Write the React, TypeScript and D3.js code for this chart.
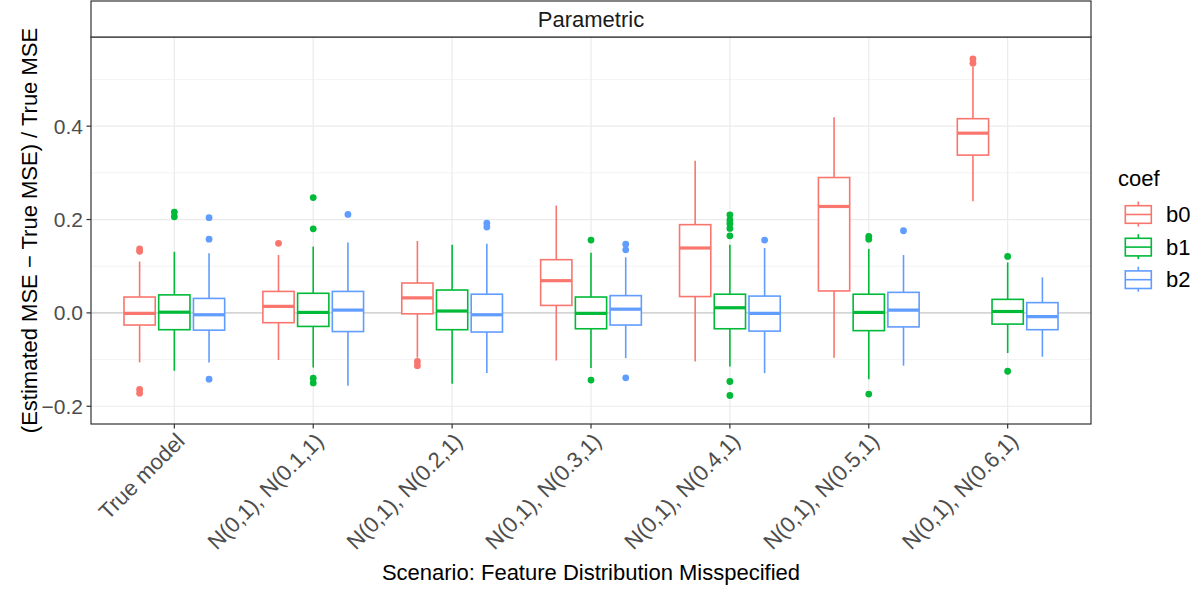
import React from "react";
import * as d3 from "d3";

const categories = [
  "True model",
  "N(0,1), N(0.1,1)",
  "N(0,1), N(0.2,1)",
  "N(0,1), N(0.3,1)",
  "N(0,1), N(0.4,1)",
  "N(0,1), N(0.5,1)",
  "N(0,1), N(0.6,1)",
];
const coefs = ["b0", "b1", "b2"];
const coefColors = ["#F8766D", "#00BA38", "#619CFF"];

// [lower whisker, q1, median, q3, upper whisker] per category
const b0Stats = [
  [-0.106, -0.026, -0.001, 0.034, 0.110],
  [-0.101, -0.021, 0.014, 0.046, 0.124],
  [-0.096, -0.002, 0.032, 0.064, 0.154],
  [-0.102, 0.016, 0.069, 0.114, 0.230],
  [-0.104, 0.035, 0.139, 0.189, 0.326],
  [-0.096, 0.047, 0.228, 0.290, 0.419],
  [0.239, 0.338, 0.385, 0.416, 0.528],
];
const b0Outliers = [
  [0.132, 0.137, -0.164, -0.172],
  [0.149],
  [-0.104, -0.113],
  [],
  [],
  [],
  [0.535, 0.544],
];
const b1Stats = [
  [-0.124, -0.036, 0.0015, 0.0386, 0.131],
  [-0.117, -0.029, 0.001, 0.042, 0.142],
  [-0.152, -0.036, 0.004, 0.049, 0.146],
  [-0.118, -0.034, -0.001, 0.034, 0.129],
  [-0.115, -0.034, 0.011, 0.040, 0.146],
  [-0.142, -0.038, 0.001, 0.040, 0.137],
  [-0.086, -0.024, 0.003, 0.029, 0.108],
];
const b1Outliers = [
  [0.206, 0.216],
  [0.247, 0.180, -0.140, -0.150],
  [],
  [0.156, -0.144],
  [0.210, 0.199, 0.191, 0.181, 0.165, -0.147, -0.177],
  [0.164, 0.158, -0.174],
  [0.121, -0.125],
];
const b2Stats = [
  [-0.106, -0.037, -0.004, 0.031, 0.128],
  [-0.156, -0.040, 0.006, 0.046, 0.151],
  [-0.129, -0.041, -0.004, 0.040, 0.148],
  [-0.097, -0.026, 0.008, 0.037, 0.119],
  [-0.129, -0.039, -0.001, 0.036, 0.139],
  [-0.113, -0.030, 0.006, 0.044, 0.124],
  [-0.094, -0.036, -0.008, 0.022, 0.076],
];
const b2Outliers = [
  [0.204, 0.158, -0.142],
  [0.211],
  [0.184, 0.192],
  [0.135, 0.147, -0.139],
  [0.156],
  [0.176],
  [],
];
const yTicks = [-0.2, 0.0, 0.2, 0.4];
const yMinor = [-0.1, 0.1, 0.3, 0.5];

const allStats = [b0Stats, b1Stats, b2Stats];
const allOutliers = [b0Outliers, b1Outliers, b2Outliers];

const W = 1203;
const H = 590;
const P = { left: 91, right: 1091, top: 37, bottom: 424 };
const FONT = "Liberation Sans, Arial, Helvetica, sans-serif";

export default function App() {
  const x = d3
    .scalePoint<string>()
    .domain(categories)
    .range([P.left, P.right])
    .padding(0.6);
  const step = x.step();
  const y = d3.scaleLinear().domain([-0.238, 0.591]).range([P.bottom, P.top]);
  const boxW = 0.225 * step;
  const fmt = d3.format(".1f");
  const fmtTick = (v: number) => fmt(v).replace("-", "\u2212");

  return (
    <svg
      width={W}
      height={H}
      style={{ position: "absolute", left: 0, top: 0, background: "#fff" }}
      fontFamily={FONT}
    >
      <rect x={0} y={0} width={W} height={H} fill="#fff" />
      {/* grid */}
      {yMinor.map((v) => (
        <line key={"mi" + v} x1={P.left} x2={P.right} y1={y(v)} y2={y(v)} stroke="#EBEBEB" strokeWidth={0.6} />
      ))}
      {yTicks.map((v) => (
        <line key={"ma" + v} x1={P.left} x2={P.right} y1={y(v)} y2={y(v)} stroke="#EBEBEB" strokeWidth={1.2} />
      ))}
      {categories.map((c) => (
        <line key={"vx" + c} x1={x(c)} x2={x(c)} y1={P.top} y2={P.bottom} stroke="#EBEBEB" strokeWidth={1.2} />
      ))}
      {/* zero line */}
      <line x1={P.left} x2={P.right} y1={y(0)} y2={y(0)} stroke="#CCCCCC" strokeWidth={1.4} />

      {/* boxes */}
      {coefs.map((coef, ci) =>
        categories.map((cat, gi) => {
          const [lo, q1, med, q3, hi] = allStats[ci][gi];
          const cx = (x(cat) as number) + (ci - 1) * 0.25 * step;
          const col = coefColors[ci];
          return (
            <g key={coef + cat}>
              <line x1={cx} x2={cx} y1={y(hi)} y2={y(q3)} stroke={col} strokeWidth={1.6} />
              <line x1={cx} x2={cx} y1={y(q1)} y2={y(lo)} stroke={col} strokeWidth={1.6} />
              <rect
                x={cx - boxW / 2}
                y={y(q3)}
                width={boxW}
                height={y(q1) - y(q3)}
                fill="#fff"
                stroke={col}
                strokeWidth={1.6}
              />
              <line x1={cx - boxW / 2} x2={cx + boxW / 2} y1={y(med)} y2={y(med)} stroke={col} strokeWidth={3.2} />
              {allOutliers[ci][gi].map((o, k) => (
                <circle key={k} cx={cx} cy={y(o)} r={3.4} fill={col} />
              ))}
            </g>
          );
        })
      )}

      {/* panel border */}
      <rect
        x={P.left}
        y={P.top}
        width={P.right - P.left}
        height={P.bottom - P.top}
        fill="none"
        stroke="#333333"
        strokeWidth={1.2}
      />
      {/* strip */}
      <rect x={P.left} y={1} width={P.right - P.left} height={P.top - 1} fill="#fff" stroke="#333333" strokeWidth={1.2} />
      <text x={(P.left + P.right) / 2} y={19} fontSize={22} fill="#1A1A1A" textAnchor="middle" dominantBaseline="central">
        Parametric
      </text>

      {/* y axis */}
      {yTicks.map((v) => (
        <g key={"yt" + v}>
          <line x1={P.left - 4.5} x2={P.left} y1={y(v)} y2={y(v)} stroke="#333333" strokeWidth={1.2} />
          <text x={P.left - 8} y={y(v)} fontSize={21} fill="#4D4D4D" textAnchor="end" dominantBaseline="central">
            {fmtTick(v)}
          </text>
        </g>
      ))}
      <text
        transform={`translate(37, ${(P.top + P.bottom) / 2}) rotate(-90)`}
        fontSize={22}
        fill="#000"
        textAnchor="middle"
      >
        (Estimated MSE − True MSE) / True MSE
      </text>

      {/* x axis */}
      {categories.map((c) => (
        <g key={"xt" + c}>
          <line x1={x(c)} x2={x(c)} y1={P.bottom} y2={P.bottom + 4.5} stroke="#333333" strokeWidth={1.2} />
          <text
            transform={`translate(${x(c)}, ${P.bottom + 7}) rotate(-45)`}
            fontSize={22}
            fill="#4D4D4D"
            textAnchor="end"
            dy="0.75em"
          >
            {c}
          </text>
        </g>
      ))}
      <text x={(P.left + P.right) / 2} y={580} fontSize={22} fill="#000" textAnchor="middle">
        Scenario: Feature Distribution Misspecified
      </text>

      {/* legend */}
      <text x={1118} y={186} fontSize={22} fill="#000">
        coef
      </text>
      {coefs.map((coef, i) => {
        const cy = 214.5 + i * 32.6;
        const col = coefColors[i];
        const kx = 1138.3;
        const kw = 26;
        return (
          <g key={"lg" + coef}>
            <line x1={kx} x2={kx} y1={cy - 13} y2={cy + 12} stroke={col} strokeWidth={1.6} />
            <rect x={kx - kw / 2} y={cy - 8.8} width={kw} height={17.6} fill="#fff" stroke={col} strokeWidth={1.6} />
            <line x1={kx - kw / 2} x2={kx + kw / 2} y1={cy} y2={cy} stroke={col} strokeWidth={1.6} />
            <text x={1166} y={cy} fontSize={22} fill="#000" dominantBaseline="central">
              {coef}
            </text>
          </g>
        );
      })}
    </svg>
  );
}
